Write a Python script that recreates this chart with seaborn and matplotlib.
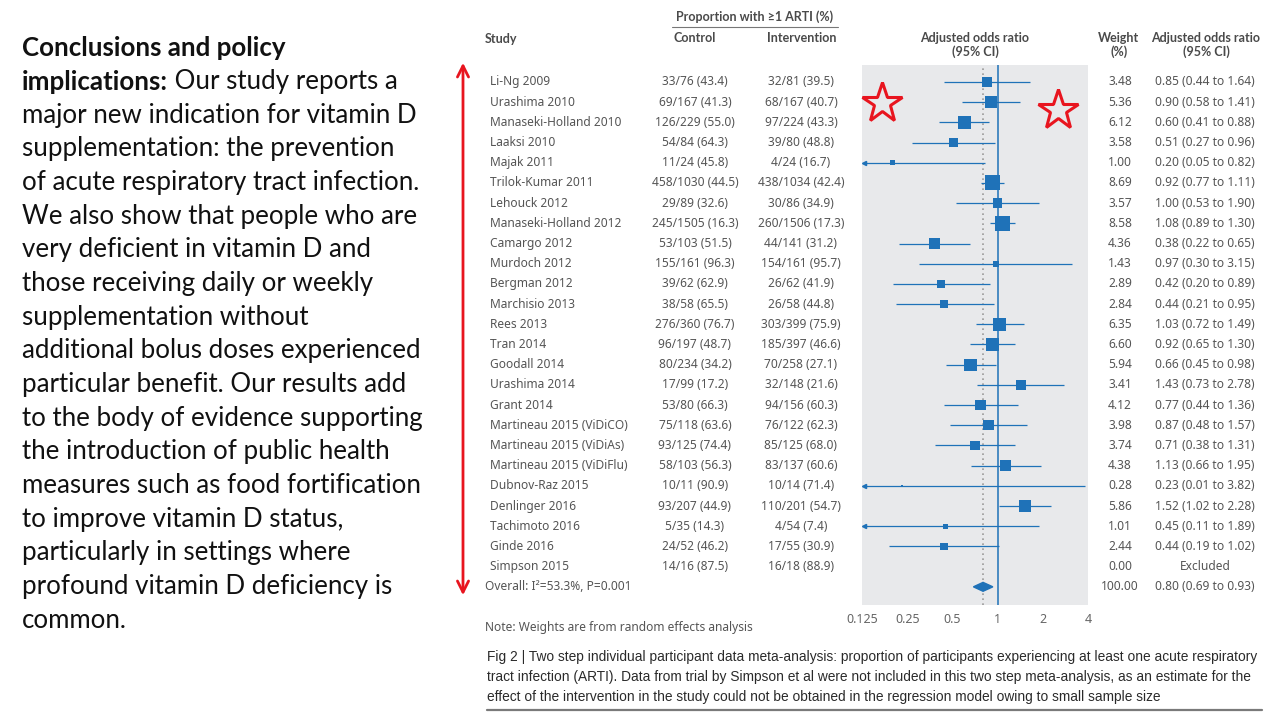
import numpy as np
import pandas as pd
import matplotlib.pyplot as plt
import matplotlib.transforms as mtransforms
import seaborn as sns

# 研究名称
studies = ['Li-Ng 2009', 'Urashima 2010', 'Manaseki-Holland 2010', 'Laaksi 2010', 'Majak 2011',
           'Trilok-Kumar 2011', 'Lehouck 2012', 'Manaseki-Holland 2012', 'Camargo 2012', 'Murdoch 2012',
           'Bergman 2012', 'Marchisio 2013', 'Rees 2013', 'Tran 2014', 'Goodall 2014', 'Urashima 2014',
           'Grant 2014', 'Martineau 2015 (ViDiCO)', 'Martineau 2015 (ViDiAs)', 'Martineau 2015 (ViDiFlu)',
           'Dubnov-Raz 2015', 'Denlinger 2016', 'Tachimoto 2016', 'Ginde 2016', 'Simpson 2015']
control = ['33/76 (43.4)', '69/167 (41.3)', '126/229 (55.0)', '54/84 (64.3)', '11/24 (45.8)',
           '458/1030 (44.5)', '29/89 (32.6)', '245/1505 (16.3)', '53/103 (51.5)', '155/161 (96.3)',
           '39/62 (62.9)', '38/58 (65.5)', '276/360 (76.7)', '96/197 (48.7)', '80/234 (34.2)',
           '17/99 (17.2)', '53/80 (66.3)', '75/118 (63.6)', '93/125 (74.4)', '58/103 (56.3)',
           '10/11 (90.9)', '93/207 (44.9)', '5/35 (14.3)', '24/52 (46.2)', '14/16 (87.5)']
intervention = ['32/81 (39.5)', '68/167 (40.7)', '97/224 (43.3)', '39/80 (48.8)', '4/24 (16.7)',
                '438/1034 (42.4)', '30/86 (34.9)', '260/1506 (17.3)', '44/141 (31.2)', '154/161 (95.7)',
                '26/62 (41.9)', '26/58 (44.8)', '303/399 (75.9)', '185/397 (46.6)', '70/258 (27.1)',
                '32/148 (21.6)', '94/156 (60.3)', '76/122 (62.3)', '85/125 (68.0)', '83/137 (60.6)',
                '10/14 (71.4)', '110/201 (54.7)', '4/54 (7.4)', '17/55 (30.9)', '16/18 (88.9)']
odds = [0.85, 0.90, 0.60, 0.51, 0.20, 0.92, 1.00, 1.08, 0.38, 0.97, 0.42, 0.44, 1.03, 0.92, 0.66,
        1.43, 0.77, 0.87, 0.71, 1.13, 0.23, 1.52, 0.45, 0.44, np.nan]
ci_low = [0.44, 0.58, 0.41, 0.27, 0.05, 0.77, 0.53, 0.89, 0.22, 0.30, 0.20, 0.21, 0.72, 0.65, 0.45,
          0.73, 0.44, 0.48, 0.38, 0.66, 0.01, 1.02, 0.11, 0.19, np.nan]
ci_high = [1.64, 1.41, 0.88, 0.96, 0.82, 1.11, 1.90, 1.30, 0.65, 3.15, 0.89, 0.95, 1.49, 1.30, 0.98,
           2.78, 1.36, 1.57, 1.31, 1.95, 3.82, 2.28, 1.89, 1.02, np.nan]
weights = [3.48, 5.36, 6.12, 3.58, 1.00, 8.69, 3.57, 8.58, 4.36, 1.43, 2.89, 2.84, 6.35, 6.60, 5.94,
           3.41, 4.12, 3.98, 3.74, 4.38, 0.28, 5.86, 1.01, 2.44, 0.00]
overall_label = 'Overall: I\u00b2=53.3%, P=0.001'
overall_or, overall_lo, overall_hi, overall_w = 0.80, 0.69, 0.93, 100.00
x_ticks = [0.125, 0.25, 0.5, 1, 2, 4]
x_tick_labels = ['0.125', '0.25', '0.5', '1', '2', '4']

left_lines = [
    ('Conclusions and policy', ''),
    ('implications:', ' Our study reports a'),
    ('', 'major new indication for vitamin D'),
    ('', 'supplementation: the prevention'),
    ('', 'of acute respiratory tract infection.'),
    ('', 'We also show that people who are'),
    ('', 'very deficient in vitamin D and'),
    ('', 'those receiving daily or weekly'),
    ('', 'supplementation without'),
    ('', 'additional bolus doses experienced'),
    ('', 'particular benefit. Our results add'),
    ('', 'to the body of evidence supporting'),
    ('', 'the introduction of public health'),
    ('', 'measures such as food fortification'),
    ('', 'to improve vitamin D status,'),
    ('', 'particularly in settings where'),
    ('', 'profound vitamin D deficiency is'),
    ('', 'common.'),
]
caption = ['Fig 2 | Two step individual participant data meta-analysis: proportion of participants experiencing at least one acute respiratory',
           'tract infection (ARTI). Data from trial by Simpson et al were not included in this two step meta-analysis, as an estimate for the',
           'effect of the intervention in the study could not be obtained in the regression model owing to small sample size']

df = pd.DataFrame({'study': studies, 'control': control, 'intervention': intervention,
                   'or': odds, 'lo': ci_low, 'hi': ci_high, 'weight': weights})
df['row'] = np.arange(len(df))
overall_row = len(df)

sns.set_style('white')
plt.rcParams['font.family'] = ['Noto Sans', 'DejaVu Sans']

W, H = 1280, 720
blue = '#1f72b8'
grey_txt = '#555555'

fig = plt.figure(figsize=(12.8, 7.2), dpi=100)
fig.patch.set_facecolor('white')


def px(x, y):
    return x / W, 1 - y / H


# 森林图
ax = fig.add_axes([862 / W, 1 - 605 / H, 226 / W, 540 / H])
ax.set_xscale('log', base=2)
ax.set_facecolor('#e8e9eb')
for s in ax.spines.values():
    s.set_visible(False)

xmin, xmax = 0.125, 4
ax.axvline(overall_or, color='#9a9a9a', ls=(0, (1, 2)), lw=1.2, zorder=1)
ax.axvline(1, color=blue, lw=1.1, zorder=2)

est = df.dropna(subset=['or'])
for _, r in est.iterrows():
    a, b = max(r['lo'], xmin * 1.03), min(r['hi'], xmax)
    ax.hlines(r['row'], a, b, color=blue, lw=0.9, zorder=3)
    if r['lo'] < xmin:
        ax.plot(a, r['row'], marker='<', ms=3, color=blue, zorder=3)

sns.scatterplot(data=est, x='or', y='row', size='weight', sizes=(3, 115), size_norm=(0.28, 8.69),
                marker='s', color=blue, edgecolor='none', legend=False, ax=ax, zorder=4)
ax.fill([overall_lo, overall_or, overall_hi, overall_or],
        [overall_row, overall_row - 0.22, overall_row, overall_row + 0.22], color=blue, zorder=4)

ax.set_xlim(xmin, xmax)
ax.set_ylim(25.9, -0.84)
ax.set_xticks(x_ticks)
ax.set_xticklabels(x_tick_labels)
ax.minorticks_off()
ax.set_yticks([])
ax.set_xlabel('')
ax.set_ylabel('')
ax.tick_params(axis='x', length=0, pad=6, labelsize=9, labelcolor='#666666')

# 表格文字
tr = mtransforms.blended_transform_factory(fig.transFigure, ax.transData)
fs = 8.6
for _, r in df.iterrows():
    y = r['row']
    ax.text(490 / W, y, r['study'], transform=tr, ha='left', va='center', fontsize=fs, color=grey_txt)
    ax.text(695 / W, y, r['control'], transform=tr, ha='center', va='center', fontsize=fs, color=grey_txt)
    ax.text(801 / W, y, r['intervention'], transform=tr, ha='center', va='center', fontsize=fs, color=grey_txt)
    ax.text(1120 / W, y, f"{r['weight']:.2f}", transform=tr, ha='center', va='center', fontsize=fs, color=grey_txt)
    if np.isnan(r['or']):
        ci = 'Excluded'
    else:
        ci = f"{r['or']:.2f} ({r['lo']:.2f} to {r['hi']:.2f})"
    ax.text(1205 / W, y, ci, transform=tr, ha='center', va='center', fontsize=fs, color=grey_txt)

ax.text(485 / W, overall_row, overall_label, transform=tr, ha='left', va='center', fontsize=fs, color=grey_txt)
ax.text(1120 / W, overall_row, f'{overall_w:.2f}', transform=tr, ha='center', va='center', fontsize=fs, color=grey_txt)
ax.text(1205 / W, overall_row, f'{overall_or:.2f} ({overall_lo:.2f} to {overall_hi:.2f})', transform=tr,
        ha='center', va='center', fontsize=fs, color=grey_txt)

# 表头
hdr = dict(fontsize=9, fontweight='bold', color='#4a4a4a', va='center', family=['Lato', 'DejaVu Sans'])
fig.text(*px(485, 39), 'Study', ha='left', **hdr)
fig.text(*px(755, 17), 'Proportion with \u22651 ARTI (%)', ha='center', **hdr)
fig.add_artist(plt.Line2D([672 / W, 838 / W], [1 - 27 / H] * 2, color='#777777', lw=0.8))
fig.text(*px(695, 38), 'Control', ha='center', **hdr)
fig.text(*px(802, 38), 'Intervention', ha='center', **hdr)
fig.text(*px(975, 45), 'Adjusted odds ratio\n(95% CI)', ha='center', ma='center', linespacing=1.15, **hdr)
fig.text(*px(1119, 45), 'Weight\n(%)', ha='center', ma='center', linespacing=1.15, **hdr)
fig.text(*px(1206, 45), 'Adjusted odds ratio\n(95% CI)', ha='center', ma='center', linespacing=1.15, **hdr)
fig.text(*px(485, 628), 'Note: Weights are from random effects analysis', ha='left', va='center',
         fontsize=fs, color=grey_txt)

# 图注
for i, line in enumerate(caption):
    fig.text(*px(487, 657 + i * 20), line, ha='left', va='center', fontsize=9.9, color='#2a2a2a',
             family=['Liberation Sans', 'DejaVu Sans'])
fig.add_artist(plt.Line2D([487 / W, 1262 / W], [1 - 710 / H] * 2, color='#7a7a7a', lw=1.6))

# 左侧文字
lfont = ['Lato', 'DejaVu Sans']
lsize = 18.6
for i, (bold, normal) in enumerate(left_lines):
    x, y = px(22, 48 + i * 33.65)
    if bold:
        t = fig.text(x, y, bold, ha='left', va='center', fontsize=lsize, fontweight='bold',
                     color='#111111', family=lfont)
        if normal:
            ax.annotate(normal, xy=(1, 0), xycoords=t, ha='left', va='bottom', fontsize=lsize,
                        color='#111111', family=lfont, annotation_clip=False)
    else:
        fig.text(x, y, normal, ha='left', va='center', fontsize=lsize, color='#111111', family=lfont)

# 红色标注
ov = fig.add_axes([0, 0, 1, 1], facecolor='none')
ov.set_xlim(0, W)
ov.set_ylim(H, 0)
ov.axis('off')
ov.annotate('', xy=(463, 60), xytext=(463, 598),
            arrowprops=dict(arrowstyle='<->,head_length=0.8,head_width=0.4', color='#e8151f', lw=2))
ov.plot([882, 1058], [103, 110], ls='none', marker='*', ms=30, mfc='none', mec='#e8151f', mew=2.2)

fig.savefig('out.png', dpi=100)
